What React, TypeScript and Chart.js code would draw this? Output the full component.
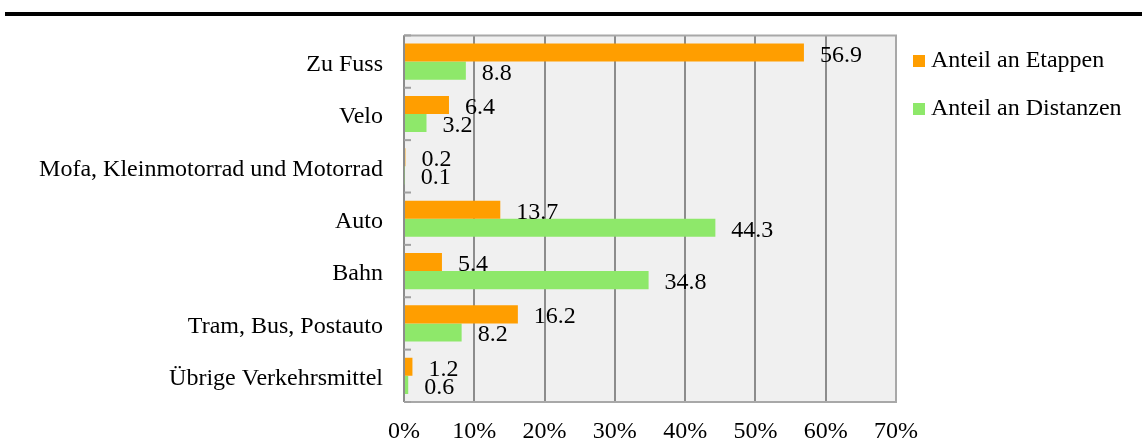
import React, { useEffect, useRef } from "react";
import { Chart, registerables } from "chart.js";

Chart.register(...registerables);

const categories = [
  "Zu Fuss",
  "Velo",
  "Mofa, Kleinmotorrad und Motorrad",
  "Auto",
  "Bahn",
  "Tram, Bus, Postauto",
  "Übrige Verkehrsmittel",
];
const etappen = [56.9, 6.4, 0.2, 13.7, 5.4, 16.2, 1.2];
const distanzen = [8.8, 3.2, 0.1, 44.3, 34.8, 8.2, 0.6];
const seriesNames = ["Anteil an Etappen", "Anteil an Distanzen"];
const xTicks = [0, 10, 20, 30, 40, 50, 60, 70];

const FONT = "'Liberation Serif', 'Times New Roman', serif";
const FS = 24;
const ORANGE = "#FF9E00";
const GREEN = "#8EE86A";

const decorPlugin = {
  id: "decor",
  beforeDraw(chart: any) {
    const { ctx, chartArea: a } = chart;
    ctx.save();
    ctx.fillStyle = "#000";
    ctx.fillRect(5, 12, chart.width - 5, 4);
    ctx.fillStyle = "#F0F0F0";
    ctx.fillRect(a.left, a.top, a.right - a.left, a.bottom - a.top);
    ctx.restore();
  },
  beforeDatasetsDraw(chart: any) {
    const { ctx, chartArea: a } = chart;
    ctx.save();
    ctx.strokeStyle = "#A8A8A8";
    ctx.lineWidth = 2;
    ctx.beginPath();
    ctx.moveTo(a.left, a.top);
    ctx.lineTo(a.right, a.top);
    ctx.lineTo(a.right, a.bottom);
    ctx.lineTo(a.left, a.bottom);
    ctx.stroke();
    ctx.strokeStyle = "#8C8C8C";
    ctx.beginPath();
    ctx.moveTo(a.left, a.top);
    ctx.lineTo(a.left, a.bottom);
    ctx.stroke();
    const n = categories.length;
    const h = (a.bottom - a.top) / n;
    ctx.strokeStyle = "#A0A0A0";
    for (let i = 0; i <= n; i++) {
      const y = a.top + i * h;
      ctx.beginPath();
      ctx.moveTo(a.left, y);
      ctx.lineTo(a.left + 7, y);
      ctx.stroke();
    }
    ctx.restore();
  },
  afterDatasetsDraw(chart: any) {
    const { ctx } = chart;
    ctx.save();
    ctx.font = `${FS}px ${FONT}`;
    ctx.fillStyle = "#000";
    ctx.textAlign = "left";
    ctx.textBaseline = "alphabetic";
    chart.data.datasets.forEach((ds: any, di: number) => {
      const meta = chart.getDatasetMeta(di);
      meta.data.forEach((bar: any, i: number) => {
        ctx.fillText(Number(ds.data[i]).toFixed(1), bar.x + 16, bar.y + 9);
      });
    });
    ctx.restore();
  },
  afterDraw(chart: any) {
    const { ctx, chartArea: a } = chart;
    ctx.save();
    ctx.font = `${FS}px ${FONT}`;
    ctx.textAlign = "left";
    ctx.textBaseline = "alphabetic";
    chart.data.datasets.forEach((ds: any, i: number) => {
      const top = 55 + i * 48;
      ctx.fillStyle = ds.backgroundColor;
      ctx.fillRect(a.right + 17, top, 12, 12);
      ctx.fillStyle = "#000";
      ctx.fillText(ds.label, a.right + 35, top + 12);
    });
    ctx.restore();
  },
};

export default function App() {
  const ref = useRef<HTMLCanvasElement | null>(null);
  useEffect(() => {
    if (!ref.current) return;
    const chart = new Chart(ref.current, {
      type: "bar",
      data: {
        labels: categories,
        datasets: [
          {
            label: seriesNames[0],
            data: etappen,
            backgroundColor: ORANGE,
            categoryPercentage: 0.69,
            barPercentage: 1,
          },
          {
            label: seriesNames[1],
            data: distanzen,
            backgroundColor: GREEN,
            categoryPercentage: 0.69,
            barPercentage: 1,
          },
        ],
      },
      options: {
        indexAxis: "y",
        animation: false,
        responsive: true,
        maintainAspectRatio: false,
        layout: { padding: { top: 35, right: 246, left: 0, bottom: 0 } },
        plugins: {
          legend: { display: false },
          tooltip: { enabled: false },
        },
        scales: {
          x: {
            min: 0,
            max: 70,
            afterBuildTicks: (s: any) => {
              s.ticks = xTicks.map((v) => ({ value: v }));
            },
            afterFit: (s: any) => {
              s.height = 36;
            },
            grid: {
              color: (c: any) => (c.index === xTicks.length - 1 ? "#A8A8A8" : "#8C8C8C"),
              lineWidth: 2,
              drawTicks: false,
            },
            border: { display: false },
            ticks: {
              padding: 15,
              color: "#000",
              font: { family: FONT, size: FS },
              callback: (v: any) => `${v}%`,
            },
          },
          y: {
            afterFit: (s: any) => {
              s.width = 404;
            },
            grid: { display: false, drawTicks: false },
            border: { display: false },
            ticks: {
              padding: 21,
              labelOffset: 3,
              color: "#000",
              font: { family: FONT, size: FS },
            },
          },
        },
      },
      plugins: [decorPlugin],
    });
    return () => chart.destroy();
  }, []);
  return (
    <div style={{ position: "fixed", left: 0, top: 0, width: 1142, height: 438, background: "#fff" }}>
      <canvas ref={ref} />
    </div>
  );
}
